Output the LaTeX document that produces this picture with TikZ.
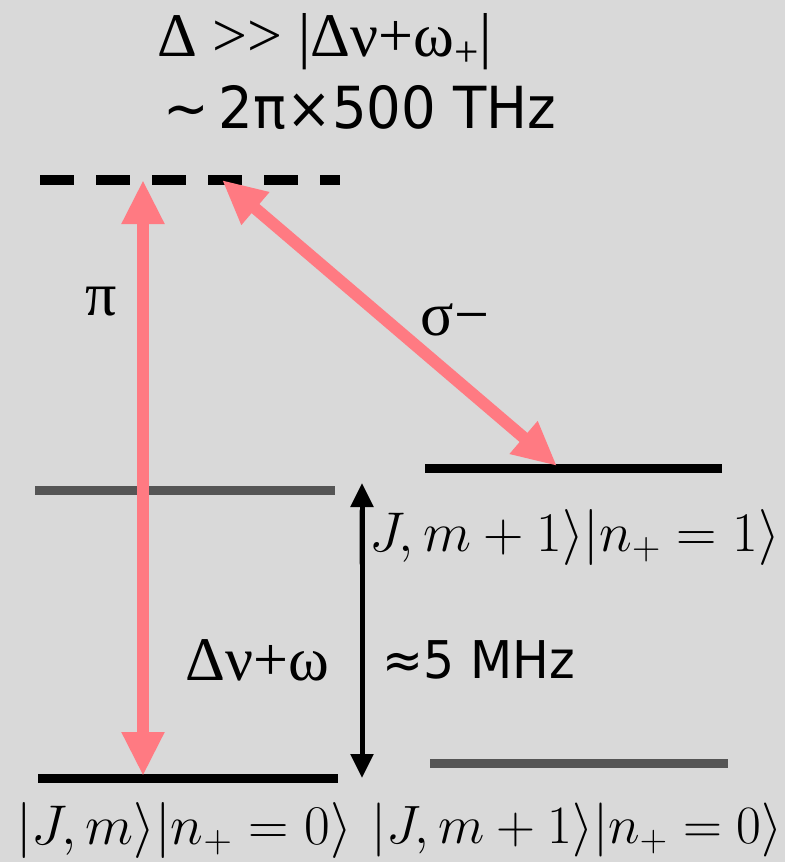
\RequirePackage{fix-cm}
\documentclass[tikz,border=0pt]{standalone}
\usepackage{fontspec}
\usepackage{amsmath}
\usetikzlibrary{arrows.meta,positioning}
\newfontfamily\greekfont{Liberation Serif}
\newfontfamily\labelfont[FakeStretch=0.94]{DejaVu Sans}
\definecolor{bggray}{HTML}{D9D9D9}
\definecolor{laserpink}{HTML}{FF7A82}
\definecolor{levelgray}{HTML}{555555}

\begin{document}
\begin{tikzpicture}[
    x=0.5pt, y=-0.5pt,
    level/.style={line width=4.5pt},
    laser/.style={laserpink, line width=6pt, {Triangle[length=22pt,width=20pt]}-{Triangle[length=22pt,width=20pt]}},
    gaparrow/.style={line width=2.5pt, {Triangle[length=12pt,width=11pt]}-{Triangle[length=12pt,width=11pt]}},
    ket/.style={font=\fontsize{28}{32}\selectfont, inner sep=0pt},
    greek/.style={font=\greekfont\fontsize{31}{34}\selectfont, inner sep=0pt},
    sans/.style={font=\labelfont\fontsize{29}{32}\selectfont, inner sep=0pt}
]
    \fill[bggray] (0,0) rectangle (785,862);
    \useasboundingbox (0,0) rectangle (785,862);

    % levels
    \coordinate (virtL) at (40,180);
    \coordinate (virtR) at (340,180);
    \coordinate (upL) at (425,468);
    \coordinate (upR) at (722,468);
    \coordinate (midL) at (35,490);
    \coordinate (midR) at (335,490);
    \coordinate (gndL) at (38,778);
    \coordinate (gndR) at (338,778);
    \coordinate (sideL) at (430,763);
    \coordinate (sideR) at (728,763);

    \draw[line width=5pt, dash pattern=on 17pt off 11pt] (virtL) -- (virtR);
    \draw[level] (upL) -- (upR);
    \draw[level, levelgray] (midL) -- (midR);
    \draw[level] (gndL) -- (gndR);
    \draw[level, levelgray] (sideL) -- (sideR);

    % transitions
    \coordinate (piTop) at (143,180);
    \coordinate (piBot) at (143,776);
    \coordinate (sigTop) at (222,180);
    \coordinate (sigBot) at (557,466);
    \coordinate (gapTop) at (362,483);
    \coordinate (gapBot) at (362,778);

    \draw[laser] (piTop) -- (piBot);
    \draw[laser] (sigTop) -- (sigBot);
    \draw[gaparrow] (gapTop) -- (gapBot);

    % labels
    \node[greek] (detuning) at (325,42) {Δ >> |Δν+ω\textsubscript{+}|};
    \node[sans] (optical) at (360,108) {\char`~\,2π×500 THz};
    \node[greek] (pilabel) at (101,302) {π};
    \node[greek] (siglabel) at (455,320) {σ−};
    \node[greek] (shift) at (257,660) {Δν+ω};
    \node[sans, font=\labelfont\fontsize{26}{30}\selectfont] (mhz) at (479,660) {≈5 MHz};

    \node[ket] (ketUp) at (567,537) {$|J,m+1\rangle|n_+=1\rangle$};
    \node[ket] (ketGnd) at (184,830) {$|J,m\rangle|n_+=0\rangle$};
    \node[ket, font=\fontsize{27}{31}\selectfont] (ketSide) at (577,830) {$|J,m+1\rangle|n_+=0\rangle$};
\end{tikzpicture}
\end{document}
